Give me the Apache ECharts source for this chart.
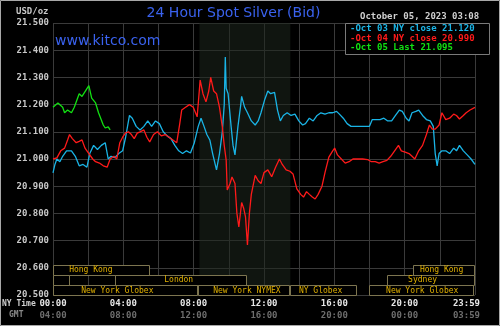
<!DOCTYPE html>
<html>
<head>
<meta charset="utf-8">
<script src="https://cdn.jsdelivr.net/npm/echarts@6/dist/echarts.min.js"></script>
<style>
html,body{margin:0;padding:0;background:#000;}
#chart{width:500px;height:326px;}
</style>
</head>
<body>
<div id="chart"></div>
<script>
// ---- data (hours of NY day, price USD/oz) ----
const oct03Hours = [0.00,0.11,0.22,0.39,0.55,0.77,1.05,1.27,1.49,1.71,1.93,2.09,2.31,2.53,2.75,2.97,3.14,3.30,3.52,3.74,3.96,4.13,4.35,4.51,4.73,4.95,5.17,5.39,5.61,5.83,6.05,6.27,6.49,6.71,6.93,7.15,7.37,7.59,7.82,8.04,8.26,8.42,8.59,8.75,8.92,9.08,9.30,9.47,9.63,9.74,9.80,9.85,9.96,10.13,10.24,10.35,10.52,10.68,10.73,10.90,11.06,11.28,11.50,11.67,11.83,12.05,12.22,12.38,12.60,12.77,12.93,13.10,13.32,13.54,13.76,13.98,14.20,14.36,14.58,14.80,15.02,15.24,15.47,15.69,15.91,16.13,16.29,16.51,16.73,16.95,17.17,17.45,17.72,18.00,18.16,18.38,18.60,18.82,19.04,19.26,19.48,19.70,19.87,20.09,20.25,20.42,20.64,20.80,21.02,21.24,21.46,21.63,21.74,21.85,21.96,22.12,22.34,22.56,22.79,22.95,23.12,23.34,23.56,23.78,24.00];
const oct03Prices = [20.949,20.98,21.00,20.99,21.01,21.03,21.03,21.01,20.975,20.98,20.97,21.02,21.05,21.035,21.05,21.06,21.00,21.01,21.005,21.02,21.03,21.08,21.16,21.15,21.12,21.107,21.12,21.14,21.12,21.14,21.13,21.10,21.085,21.075,21.05,21.03,21.02,21.03,21.022,21.06,21.12,21.15,21.12,21.09,21.07,21.02,20.96,21.02,21.10,21.20,21.375,21.26,21.24,21.12,21.05,21.015,21.12,21.20,21.23,21.19,21.17,21.14,21.125,21.14,21.17,21.22,21.25,21.24,21.245,21.18,21.14,21.16,21.17,21.16,21.165,21.14,21.125,21.13,21.15,21.14,21.16,21.17,21.165,21.17,21.17,21.175,21.165,21.15,21.13,21.12,21.12,21.12,21.12,21.12,21.145,21.145,21.145,21.15,21.14,21.14,21.16,21.18,21.175,21.15,21.14,21.17,21.175,21.18,21.16,21.145,21.14,21.12,21.02,20.975,21.02,21.03,21.03,21.02,21.04,21.03,21.05,21.03,21.015,21.00,20.98];

const oct04Hours = [0.00,0.22,0.44,0.66,0.83,0.94,1.10,1.32,1.49,1.65,1.82,2.04,2.26,2.42,2.64,2.86,3.08,3.25,3.47,3.63,3.80,3.96,4.13,4.29,4.46,4.62,4.79,4.95,5.17,5.34,5.50,5.72,5.94,6.16,6.38,6.60,6.82,7.04,7.21,7.32,7.54,7.76,7.98,8.20,8.37,8.53,8.70,8.86,8.97,9.14,9.30,9.47,9.63,9.74,9.85,9.91,10.07,10.18,10.35,10.46,10.57,10.73,10.84,10.95,11.06,11.17,11.28,11.50,11.67,11.83,12.00,12.22,12.44,12.66,12.88,13.04,13.26,13.48,13.65,13.87,14.09,14.25,14.42,14.58,14.75,14.91,15.08,15.30,15.47,15.69,15.91,16.02,16.18,16.40,16.62,16.84,17.06,17.34,17.61,17.89,18.11,18.33,18.55,18.77,18.99,19.21,19.43,19.65,19.81,20.03,20.25,20.42,20.58,20.80,21.02,21.24,21.41,21.57,21.74,21.96,22.12,22.34,22.56,22.79,22.95,23.12,23.34,23.50,23.72,24.00];
const oct04Prices = [21.00,21.004,21.03,21.04,21.07,21.09,21.075,21.06,21.065,21.07,21.04,21.02,21.00,20.99,20.985,20.975,20.97,21.00,21.01,21.00,21.06,21.08,21.096,21.10,21.09,21.075,21.095,21.10,21.107,21.08,21.063,21.09,21.10,21.085,21.09,21.08,21.07,21.06,21.13,21.18,21.19,21.20,21.19,21.155,21.29,21.24,21.21,21.25,21.30,21.25,21.24,21.19,21.118,21.05,20.996,20.886,20.91,20.934,20.91,20.80,20.75,20.84,20.82,20.787,20.684,20.80,20.87,20.94,20.92,20.91,20.95,20.96,20.935,20.97,21.00,20.98,20.96,20.955,20.945,20.89,20.87,20.86,20.88,20.87,20.86,20.853,20.87,20.90,20.95,21.007,21.03,21.04,21.015,21.00,20.985,20.99,21.00,21.00,21.00,20.998,20.99,20.99,20.985,20.99,20.995,21.01,21.03,21.05,21.03,21.025,21.02,21.01,21.00,21.03,21.05,21.09,21.125,21.11,21.11,21.125,21.17,21.145,21.15,21.165,21.16,21.147,21.16,21.17,21.18,21.19];

const oct05Hours = [0.00,0.28,0.55,0.66,0.83,1.05,1.21,1.49,1.65,2.04,2.20,2.42,2.59,2.86,2.97,3.14,3.25];
const oct05Prices = [21.19,21.206,21.19,21.17,21.18,21.17,21.19,21.24,21.23,21.27,21.224,21.206,21.17,21.125,21.114,21.118,21.107];

const legendLines = ['-Oct 03 NY close 21.120', '-Oct 04 NY close 20.990', '-Oct 05 Last 21.095'];

const sessionNames   = ['Hong Kong','Hong Kong','','London','Sydney','New York Globex','New York NYMEX','NY Globex','New York Globex'];
const sessionStart   = [0, 20.5, 0, 3.5, 19, 0, 8.25, 13.5, 18];
const sessionEnd     = [5.5, 24, 0.97, 11, 24, 8.25, 13.5, 17.33, 24];
const sessionRow     = [0, 0, 1, 1, 1, 2, 2, 2, 2];
const sessionLabelAt = [2.15, 22.1, 0.5, 7.15, 21.02, 3.66, 11.03, 15.22, 21.0];

const nymexShade = [8.33, 13.5];
const yTickMin = 20.5, yTickMax = 21.5, yTickStep = 0.1;

// ---- chart ----
const chart = echarts.init(document.getElementById('chart'), null, {renderer: 'canvas'});
const mono = 'DejaVu Sans Mono';
const pad2 = n => (n < 10 ? '0' : '') + n;
const zip = (h, p) => h.map((x, i) => [x, p[i]]);
const bandEdges = [20.611, 20.574, 20.537, 20.5];

const sessionData = sessionNames.map((n, i) => [sessionStart[i], sessionEnd[i], sessionRow[i], sessionLabelAt[i]]);

const lblRich = {
  a: {color: '#e6e6e6', fontFamily: mono, fontSize: 9, fontWeight: 'bold', lineHeight: 12},
  b: {color: '#6e6e6e', fontFamily: mono, fontSize: 9, fontWeight: 'bold', lineHeight: 12},
  c: {color: '#e6e6e6', fontFamily: mono, fontSize: 9, fontWeight: 'bold', lineHeight: 12, padding: [0, 17, 0, 0]},
  d: {color: '#6e6e6e', fontFamily: mono, fontSize: 9, fontWeight: 'bold', lineHeight: 12, padding: [0, 17, 0, 0]}
};

const option = {
  backgroundColor: '#000',
  animation: false,
  grid: {left: 53, right: 10, top: 23, bottom: 31, containLabel: false},
  xAxis: {
    type: 'value', min: 0, max: 24, interval: 2,
    axisLine: {show: false}, axisTick: {show: false},
    splitLine: {show: true, lineStyle: {color: '#3a3a3a', width: 1}},
    axisLabel: {
      margin: 3,
      formatter: v => {
        if (v % 4 !== 0) return '';
        if (v === 24) return '{c|23:59}\n{d|03:59}';
        return '{a|' + pad2(v) + ':00}\n{b|' + pad2((v + 4) % 24) + ':00}';
      },
      rich: lblRich
    }
  },
  yAxis: {
    type: 'value', min: yTickMin, max: yTickMax, interval: yTickStep,
    axisLine: {show: false}, axisTick: {show: false},
    splitLine: {show: true, lineStyle: {color: '#3a3a3a', width: 1}},
    axisLabel: {
      margin: 4, color: '#c8c8c8', fontFamily: mono, fontSize: 9, fontWeight: 'bold',
      formatter: v => v.toFixed(3)
    }
  },
  series: [
    {
      type: 'line', data: [], z: 1, silent: true,
      markArea: {
        silent: true,
        itemStyle: {color: 'rgba(30,38,30,0.55)'},
        data: [[{xAxis: nymexShade[0]}, {xAxis: nymexShade[1]}]]
      }
    },
    {
      type: 'custom', z: 2, clip: false, silent: true,
      data: sessionData,
      renderItem: (params, api) => {
        const row = api.value(2);
        const p0 = api.coord([api.value(0), bandEdges[row]]);
        const p1 = api.coord([api.value(1), bandEdges[row + 1]]);
        const pl = api.coord([api.value(3), bandEdges[row]]);
        const name = sessionNames[params.dataIndex];
        return {
          type: 'group',
          children: [
            {type: 'rect', shape: {x: Math.round(p0[0]) + 0.5, y: Math.round(p0[1]) + 0.5, width: Math.round(p1[0] - p0[0]) - 1, height: Math.round(p1[1] - p0[1])},
             style: {fill: '#000', stroke: '#7d7550', lineWidth: 1}},
            {type: 'text', x: pl[0], y: (p0[1] + p1[1]) / 2 + 0.5,
             style: {text: name, fill: '#e0b000', font: '8px "DejaVu Sans Mono"', align: 'center', verticalAlign: 'middle'}}
          ]
        };
      }
    },
    {type: 'line', name: 'Oct 03', data: zip(oct03Hours, oct03Prices), showSymbol: false, z: 3,
     lineStyle: {color: '#1ab4e6', width: 1.3}},
    {type: 'line', name: 'Oct 04', data: zip(oct04Hours, oct04Prices), showSymbol: false, z: 3,
     lineStyle: {color: '#ff1a1a', width: 1.3}},
    {type: 'line', name: 'Oct 05', data: zip(oct05Hours, oct05Prices), showSymbol: false, z: 4,
     lineStyle: {color: '#12e012', width: 1.3}}
  ],
  graphic: [
    {type: 'text', x: 233.5, y: 13.5, z: 10,
     style: {text: '24 Hour Spot Silver (Bid)', fill: '#3a62ee', font: '14px "DejaVu Sans"', align: 'center', verticalAlign: 'middle'}},
    {type: 'text', x: 55, y: 41, z: 10,
     style: {text: 'www.kitco.com', fill: '#3a62ee', font: '14px "DejaVu Sans"', align: 'left', verticalAlign: 'middle'}},
    {type: 'text', x: 16, y: 12, z: 10,
     style: {text: 'USD/oz', fill: '#c8c8c8', font: 'bold 9px "DejaVu Sans Mono"', align: 'left', verticalAlign: 'middle'}},
    {type: 'text', x: 360, y: 17, z: 10,
     style: {text: 'October 05, 2023 03:08', fill: '#d0d0d0', font: 'bold 9px "DejaVu Sans Mono"', align: 'left', verticalAlign: 'middle'}},
    {type: 'rect', z: 10, shape: {x: 345.5, y: 23.5, width: 144, height: 31},
     style: {fill: '#000', stroke: '#7a7a7a', lineWidth: 1}},
    {type: 'text', x: 350, y: 29, z: 11,
     style: {text: legendLines[0], fill: '#1ab4e6', font: 'bold 9px "DejaVu Sans Mono"', align: 'left', verticalAlign: 'middle'}},
    {type: 'text', x: 350, y: 38.5, z: 11,
     style: {text: legendLines[1], fill: '#ff1a1a', font: 'bold 9px "DejaVu Sans Mono"', align: 'left', verticalAlign: 'middle'}},
    {type: 'text', x: 350, y: 48, z: 11,
     style: {text: legendLines[2], fill: '#12e012', font: 'bold 9px "DejaVu Sans Mono"', align: 'left', verticalAlign: 'middle'}},
    {type: 'text', x: 2, y: 304, z: 10,
     style: {text: 'NY Time', fill: '#d0d0d0', font: 'bold 8px "DejaVu Sans Mono"', align: 'left', verticalAlign: 'middle'}},
    {type: 'text', x: 9, y: 315, z: 10,
     style: {text: 'GMT', fill: '#8a8a8a', font: 'bold 8px "DejaVu Sans Mono"', align: 'left', verticalAlign: 'middle'}},
    {type: 'rect', z: 20, silent: true, shape: {x: 0.5, y: 0.5, width: 499, height: 325},
     style: {fill: 'none', stroke: '#a8a8a8', lineWidth: 1}}
  ]
};
chart.setOption(option);
</script>
</body>
</html>
